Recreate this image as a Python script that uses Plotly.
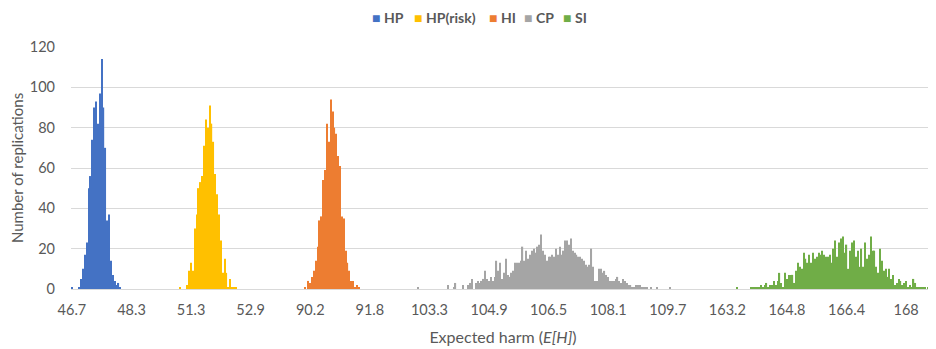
import plotly.graph_objects as go

# ---------------- data ----------------
BIN_WIDTH = 0.05
SERIES = ["HP", "HP(risk)", "HI", "CP", "SI"]
COLORS = ["#4472C4", "#FFC000", "#ED7D31", "#A5A5A5", "#70AD47"]

# category block (histogram bins) of each series: first bin value, number of bins
seg_start = [46.70, 50.20, 89.15, 102.25, 162.60]
seg_bins = [42, 65, 64, 169, 124]

# counts (number of replications) starting at the given first bin value
hp_first = 46.70
hp_counts = [1, 0, 0, 0, 1, 5, 10, 17, 23, 50, 56, 74, 90, 93, 82, 97, 114, 90, 70,
             34, 37, 14, 7, 4, 2, 3, 1]

hpr_first = 51.00
hpr_counts = [1, 0, 0, 0, 2, 9, 13, 9, 30, 37, 50, 53, 56, 71, 84, 80, 91, 82, 73,
              57, 47, 37, 24, 8, 15, 8, 1, 5, 1, 1, 1]

hi_first = 90.05
hi_counts = [1, 0, 4, 3, 6, 9, 14, 21, 34, 36, 54, 59, 82, 73, 94, 88, 80, 77, 66,
             61, 36, 35, 19, 13, 9, 4, 4, 1, 2, 1]

cp_first = 103.00
cp_counts = [1, 0, 0, 0, 0, 0, 0, 0, 0, 0, 0, 0, 0, 0, 0, 0, 2, 0, 0, 1, 3, 0, 0, 0,
             2, 0, 0, 2, 3, 5, 0,
             3, 4, 3, 4, 5, 9, 5, 4, 6, 4,
             6, 14, 9, 13, 5, 8, 15, 7, 6, 8,
             9, 13, 13, 13, 14, 21, 14, 19, 15, 17,
             19, 20, 18, 21, 22, 27, 19, 17, 14, 16,
             16, 17, 16, 20, 17, 21, 17, 19, 24, 24,
             22, 25, 19, 18, 17, 16, 16, 15, 14, 12,
             11, 12, 20, 11, 4, 4, 10, 10, 8, 9,
             7, 6, 4, 4, 4, 5, 6, 4, 3, 5,
             4, 3, 2, 2, 1, 1, 2, 2, 2, 1,
             1, 1, 1, 0, 1, 0, 0, 1, 0, 0, 0, 0, 0, 0, 1]

si_first = 163.45
si_counts = [1, 0, 0, 0, 0, 0, 0, 0,
             1, 1, 1, 1, 1, 2, 1, 2, 3, 1,
             2, 2, 4, 2, 4, 8, 3, 1, 8, 5,
             7, 7, 7, 3, 9, 13, 11, 10, 18, 15,
             13, 17, 13, 18, 15, 16, 18, 17, 19, 17,
             16, 16, 17, 13, 20, 24, 16, 23, 25, 26,
             18, 22, 10, 19, 23, 24, 16, 19, 11, 20,
             11, 23, 15, 17, 26, 19, 19, 11, 8, 20,
             14, 9, 10, 6, 10, 5, 7, 2, 3, 5,
             4, 2, 3, 4, 1, 2, 1, 5, 3, 1,
             1, 1, 1, 1, 0, 1, 1, 0, 1]

FIRSTS = [hp_first, hpr_first, hi_first, cp_first, si_first]
COUNTS = [hp_counts, hpr_counts, hi_counts, cp_counts, si_counts]

TICK_LABELS = ["46.7", "48.3", "51.3", "52.9", "90.2", "91.8", "103.3", "104.9",
               "106.5", "108.1", "109.7", "163.2", "164.8", "166.4", "168"]
Y_TICKS = [0, 20, 40, 60, 80, 100, 120]


def fmt(v):
    return f"{v:.2f}"


FONT = "Lato"
GREY = "#595959"
# the page body has an 8px margin, so the figure is drawn 8px in from the corner
PAGE_PAD = 8
W, H = 936 - PAGE_PAD, 349 - PAGE_PAD
ML, MR, MT, MB = 71 - PAGE_PAD, 1, 47 - PAGE_PAD, 60

fig = go.Figure()
all_cats = []
for name, color, s0, nb, first, counts in zip(SERIES, COLORS, seg_start, seg_bins, FIRSTS, COUNTS):
    cats = [fmt(round(s0 + i * BIN_WIDTH, 2)) for i in range(nb)]
    ys = [0] * nb
    off = int(round((first - s0) / BIN_WIDTH))
    for j, c in enumerate(counts):
        if 0 <= off + j < nb:
            ys[off + j] = c
    all_cats += cats
    fig.add_trace(go.Bar(x=cats, y=ys, name=name, showlegend=False,
                         marker=dict(color=color, line=dict(width=0))))

# legend row (coloured squares + series names), one entry per series
pw, ph = W - ML - MR, H - MT - MB
LEGEND_LEFT_PX = [371, 413, 488, 523, 562]
for n, c, lx in zip(SERIES, COLORS, LEGEND_LEFT_PX):
    fig.add_annotation(text=f'<span style="color:{c}">■</span>&nbsp;<b>{n}</b>',
                       xref="paper", yref="paper",
                       x=(lx - PAGE_PAD - ML) / pw, y=(H - MB) / ph,
                       xanchor="left", yanchor="top", showarrow=False, borderpad=0,
                       font=dict(family=FONT, size=14, color=GREY))

fig.update_layout(
    width=W, height=H,
    margin=dict(l=ML, r=MR, t=MT, b=MB, autoexpand=False),
    paper_bgcolor="white", plot_bgcolor="white",
    barmode="overlay", bargap=0.35,
    font=dict(family=FONT, size=14, color=GREY),
    showlegend=False,
    xaxis=dict(type="category", categoryorder="array", categoryarray=all_cats,
               tickmode="array", tickvals=[fmt(float(t)) for t in TICK_LABELS],
               ticktext=TICK_LABELS, showgrid=False, showline=True, linecolor="#D9D9D9",
               linewidth=1, ticks="", ticklabelstandoff=8, automargin=False,
               tickfont=dict(size=14.5, color=GREY),
               title=dict(text="Expected harm (<i>E[H]</i>)", font=dict(size=16, color=GREY),
                          standoff=14)),
    yaxis=dict(range=[0, 120], tickvals=Y_TICKS, showgrid=True, gridcolor="#D9D9D9",
               zeroline=False, showline=False, ticks="", ticklabelstandoff=15,
               automargin=False,
               tickfont=dict(size=14.5, color=GREY),
               title=dict(text="Number of replications", font=dict(size=15, color=GREY),
                          standoff=7)),
)

fig.write_html("out.html")
